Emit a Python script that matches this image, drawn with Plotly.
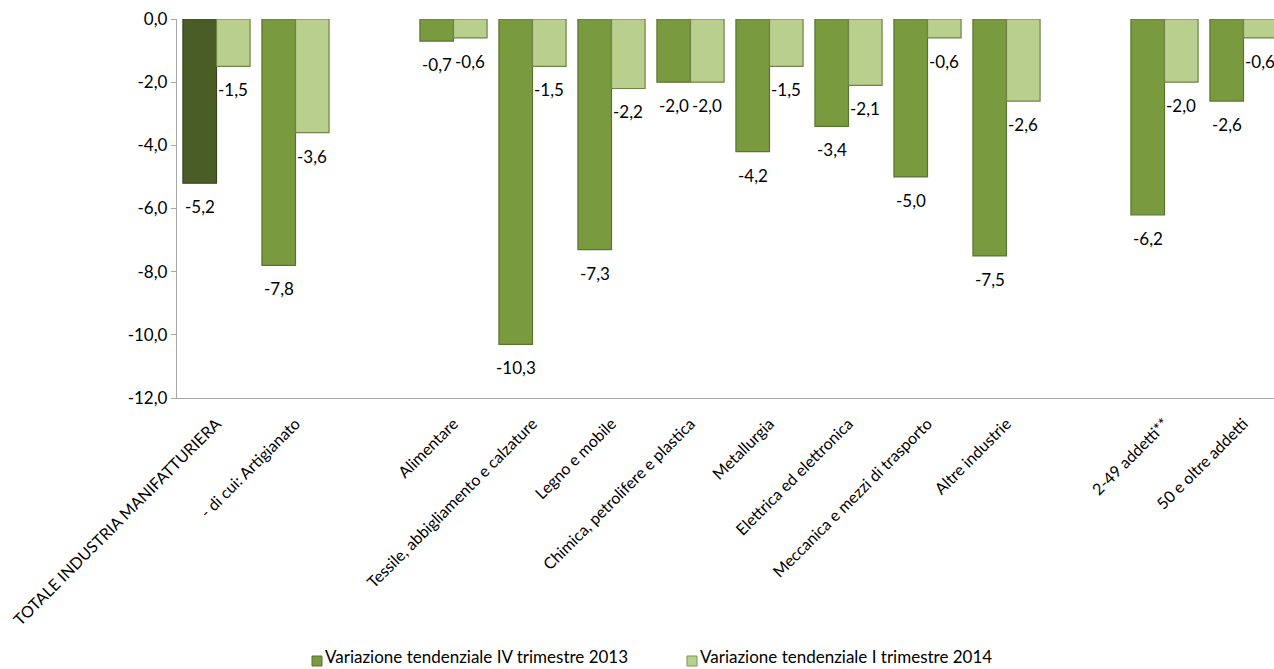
import plotly.graph_objects as go

# Slot positions along the category axis (gaps separate the three groups)
positions = [0, 1, 3, 4, 5, 6, 7, 8, 9, 10, 12, 13]
categories = [
    "TOTALE INDUSTRIA MANIFATTURIERA",
    "- di cui: Artigianato",
    "Alimentare",
    "Tessile, abbigliamento e calzature",
    "Legno e mobile",
    "Chimica, petrolifere e plastica",
    "Metallurgia",
    "Elettrica ed elettronica",
    "Meccanica e mezzi di trasporto",
    "Altre industrie",
    "2-49 addetti**",
    "50 e oltre addetti",
]
var_iv_2013 = [-5.2, -7.8, -0.7, -10.3, -7.3, -2.0, -4.2, -3.4, -5.0, -7.5, -6.2, -2.6]
var_i_2014 = [-1.5, -3.6, -0.6, -1.5, -2.2, -2.0, -1.5, -2.1, -0.6, -2.6, -2.0, -0.6]
y_ticks = [0, -2, -4, -6, -8, -10, -12]

name_1 = "Variazione tendenziale IV trimestre 2013"
name_2 = "Variazione tendenziale I trimestre 2014"

FONT = "Lato"
FSIZE = 17
XTICK_SIZE = 16
AXIS_GREY = "#a6a6a6"
GREEN_1 = "#7a9a3f"
GREEN_1_TOTAL = "#4b5d27"
GREEN_2 = "#b9cf8e"
n_slots = 14
bargap = 0.15


def fmt(v):
    return f"{v:.1f}".replace(".", ",")


colors_1 = [GREEN_1_TOTAL] + [GREEN_1] * (len(var_iv_2013) - 1)
lines_1 = ["#36441b"] + ["#5b7430"] * (len(var_iv_2013) - 1)

fig = go.Figure()
fig.add_bar(
    x=positions, y=var_iv_2013, name=name_1, showlegend=False,
    marker=dict(color=colors_1, line=dict(color=lines_1, width=1.2)),
)
fig.add_bar(
    x=positions, y=var_i_2014, name=name_2, showlegend=False,
    marker=dict(color=GREEN_2, line=dict(color="#6f8445", width=1.2)),
)

# Value labels below the end of each bar
plot_left, plot_w, plot_top, plot_h = 177, 1097, 19, 379
x_max = -0.5 + plot_w / 79.0
slot_px = plot_w / (x_max + 0.5)
half_bar = slot_px * (1 - bargap) / 4
annotations = []
for series, shift in ((var_iv_2013, -half_bar), (var_i_2014, half_bar)):
    for p, v in zip(positions, series):
        annotations.append(dict(
            x=p, y=v, xref="x", yref="y", text=fmt(v), showarrow=False,
            xshift=shift, yshift=-11, yanchor="top",
            font=dict(family=FONT, size=FSIZE, color="#000000"),
        ))


def px_to_paper_x(px):
    return (px - plot_left) / plot_w


def px_to_paper_y(py):
    return (plot_top + plot_h - py) / plot_h


# Legend: a small coloured square directly followed by the series name
shapes = []
legend_items = ((name_1, GREEN_1, "#5b7430", 312), (name_2, GREEN_2, "#7f9455", 687))
for name, fill, edge, left_px in legend_items:
    shapes.append(dict(
        type="rect", xref="paper", yref="paper",
        x0=px_to_paper_x(left_px), x1=px_to_paper_x(left_px + 10),
        y0=px_to_paper_y(666), y1=px_to_paper_y(656),
        fillcolor=fill, line=dict(color=edge, width=1),
    ))
    annotations.append(dict(
        x=px_to_paper_x(left_px + 11), y=px_to_paper_y(656),
        xref="paper", yref="paper", xanchor="left", yanchor="middle",
        showarrow=False, text=name,
        font=dict(family=FONT, size=FSIZE, color="#000000"),
    ))

fig.update_layout(
    width=1274, height=669,
    margin=dict(l=plot_left, r=0, t=plot_top, b=669 - plot_top - plot_h),
    paper_bgcolor="white", plot_bgcolor="white",
    barmode="group", bargap=bargap, bargroupgap=0,
    font=dict(family=FONT, size=FSIZE, color="#000000"),
    annotations=annotations,
    shapes=shapes,
    showlegend=False,
    xaxis=dict(
        range=[-0.5, x_max], tickvals=positions, ticktext=categories,
        tickangle=-45, ticks="", showline=True, linecolor=AXIS_GREY, linewidth=1.3,
        showgrid=False, zeroline=False, tickfont=dict(family=FONT, size=XTICK_SIZE),
        ticklabelstandoff=9, ticklabeloverflow="allow", automargin=False,
    ),
    xaxis2=dict(
        overlaying="x", side="top", anchor="y", range=[-0.5, x_max],
        tickvals=[i - 0.5 for i in range(n_slots + 1)], ticks="inside",
        ticklen=5, tickcolor=AXIS_GREY, showticklabels=False, showline=True,
        linecolor=AXIS_GREY, linewidth=1.3, showgrid=False, zeroline=False,
    ),
    yaxis=dict(
        range=[-12, 0], tickvals=y_ticks, ticktext=[fmt(v) for v in y_ticks],
        ticks="outside", ticklen=5, tickcolor=AXIS_GREY, showline=True,
        linecolor=AXIS_GREY, linewidth=1.3, showgrid=False, zeroline=False,
        tickfont=dict(family=FONT, size=FSIZE), ticklabelstandoff=0,
        automargin=False,
    ),
)

fig.write_html("out.html")
